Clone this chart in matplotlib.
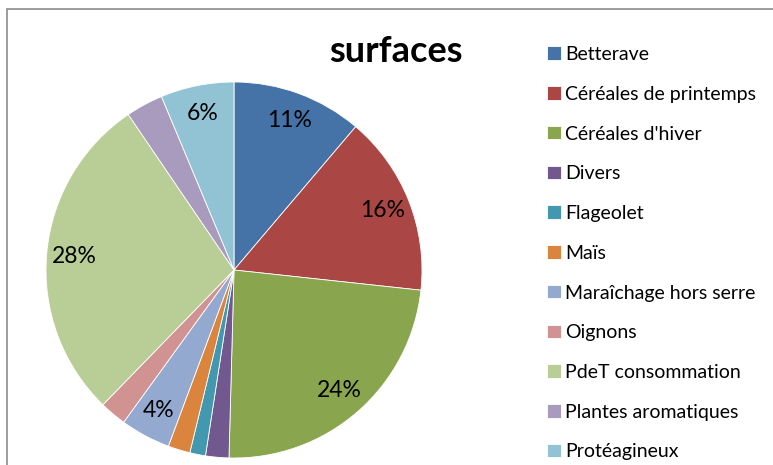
import matplotlib
matplotlib.use("Agg")
import matplotlib.pyplot as plt
from matplotlib.patches import Rectangle

plt.rcParams['font.family'] = ['Lato', 'DejaVu Sans']

categories = ["Betterave", "Céréales de printemps", "Céréales d'hiver", "Divers",
              "Flageolet", "Maïs", "Maraîchage hors serre", "Oignons",
              "PdeT consommation", "Plantes aromatiques", "Protéagineux"]
values = [11.2, 15.5, 23.7, 2.0, 1.35, 1.9, 4.3, 2.3, 28.2, 3.2, 6.3]
colors = ["#4572A7", "#AA4643", "#89A54E", "#71588F", "#4198AF", "#DB843D",
          "#93A9CF", "#D19392", "#B9CD96", "#A99BBD", "#92C3D4"]
title = "surfaces"

W, H = 773, 465
fig = plt.figure(figsize=(W / 100, H / 100), dpi=100)

# chart border
fig.add_artist(Rectangle((7 / W, -0.1), 1.2, (H - 9.5) / H + 0.1,
                         transform=fig.transFigure, fill=False,
                         edgecolor="#8C8C8C", linewidth=1.2))

cx, cy, r = 234, 270, 188
ax = fig.add_axes([(cx - r) / W, (H - cy - r) / H, 2 * r / W, 2 * r / H])

def fmt(p):
    return f"{p:.0f}%" if p >= 3.5 else ""

wedges, texts, autotexts = ax.pie(values, colors=colors, startangle=90,
                                  counterclock=False, autopct=fmt,
                                  pctdistance=0.85, radius=1,
                                  wedgeprops=dict(edgecolor="white", linewidth=0.6),
                                  textprops=dict(fontsize=16.5, color="black"))
ax.set_xlim(-1, 1)
ax.set_ylim(-1, 1)
ax.set_aspect("equal")
ax.axis("off")

fig.text(396 / W, 1 - 52 / H, title, fontsize=26, fontweight="bold",
         ha="center", va="center")

fig.legend(wedges, categories, loc="upper left",
           bbox_to_anchor=(547 / W, 1 - 46 / H), frameon=False,
           fontsize=14, handlelength=0.7, handleheight=0.7,
           handletextpad=0.25, labelspacing=1.17, borderpad=0, borderaxespad=0)

fig.savefig("out.png", dpi=100)
